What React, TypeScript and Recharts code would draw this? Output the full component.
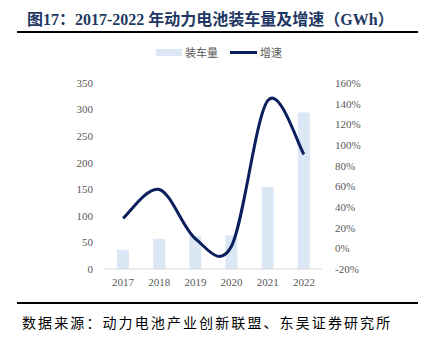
import React from 'react';
import { ComposedChart, Bar, Line, XAxis, YAxis, Legend } from 'recharts';

const years = ['2017', '2018', '2019', '2020', '2021', '2022'];
const volume = [36.4, 56.9, 62.2, 63.6, 154.5, 294.6];
const growth = [0.29, 0.57, 0.093, 0.023, 1.43, 0.91];
const leftTicks = [0, 50, 100, 150, 200, 250, 300, 350];
const rightTicks = [-0.2, 0, 0.2, 0.4, 0.6, 0.8, 1.0, 1.2, 1.4, 1.6];

const data = years.map((y, i) => ({ year: y, vol: volume[i], g: growth[i] }));

const BAR = '#DCE7F5';
const LINE = '#0A1F5C';
const TXT = '#595959';
const tickFont = { fontFamily: '"Liberation Serif", serif', fontSize: 11, fill: TXT };

// Excel-like smoothed line (uniform Catmull-Rom as cubic Bezier)
const smoothCurve = (context: any) => {
  let pts: number[][] = [];
  return {
    areaStart() {},
    areaEnd() {},
    lineStart() { pts = []; },
    point(x: number, y: number) { pts.push([+x, +y]); },
    lineEnd() {
      const n = pts.length;
      if (!n) return;
      context.moveTo(pts[0][0], pts[0][1]);
      for (let i = 0; i < n - 1; i++) {
        const p0 = pts[Math.max(i - 1, 0)];
        const p1 = pts[i];
        const p2 = pts[i + 1];
        const p3 = pts[Math.min(i + 2, n - 1)];
        context.bezierCurveTo(
          p1[0] + (p2[0] - p0[0]) / 6, p1[1] + (p2[1] - p0[1]) / 6,
          p2[0] - (p3[0] - p1[0]) / 6, p2[1] - (p3[1] - p1[1]) / 6,
          p2[0], p2[1]
        );
      }
    },
  };
};

const LegendContent = () => (
  <div style={{ display: 'flex', justifyContent: 'center', alignItems: 'center', fontFamily: '"Noto Sans CJK SC", sans-serif', fontSize: 11, color: TXT }}>
    <span style={{ display: 'inline-block', width: 26, height: 7, background: BAR, marginRight: 3 }} />
    <span style={{ marginRight: 12 }}>装车量</span>
    <span style={{ display: 'inline-block', width: 27, height: 3, background: LINE, marginRight: 3 }} />
    <span>增速</span>
  </div>
);

export default function App() {
  return (
    <div style={{ position: 'fixed', left: 0, top: 0, width: 424, height: 343, background: '#fff' }}>
      <div style={{ position: 'absolute', left: 27, top: 6, fontFamily: '"Liberation Serif", "Noto Sans CJK SC", serif', fontWeight: 'bold', fontSize: 16, color: '#1F3864', whiteSpace: 'nowrap' }}>
        图17：2017-2022 年动力电池装车量及增速（GWh）
      </div>
      <div style={{ position: 'absolute', left: 17, top: 31, width: 401, height: 2, background: '#000' }} />
      <div style={{ position: 'absolute', left: 0, top: 0 }}>
        <ComposedChart width={424} height={343} data={data} margin={{ top: 67, right: 42, bottom: 60, left: 45 }}>
          <Legend verticalAlign="top" content={<LegendContent />} wrapperStyle={{ position: 'absolute', top: 44, left: 29, width: 380 }} />
          <XAxis dataKey="year" tick={tickFont} tickLine={false} axisLine={{ stroke: '#D9D9D9' }} tickSize={0} tickMargin={9} height={14} />
          <YAxis yAxisId="l" orientation="left" domain={[0, 350]} ticks={leftTicks} tick={tickFont} axisLine={false} tickLine={false} tickSize={0} tickMargin={12} width={60} />
          <YAxis yAxisId="r" orientation="right" domain={[-0.2, 1.6]} ticks={rightTicks} tick={tickFont} axisLine={false} tickLine={false} tickSize={0} tickMargin={13} width={60} tickFormatter={(v: number) => `${Math.round(v * 100)}%`} />
          <Bar yAxisId="l" dataKey="vol" fill={BAR} barSize={12} isAnimationActive={false} />
          <Line yAxisId="r" dataKey="g" type={smoothCurve as any} stroke={LINE} strokeWidth={3} dot={false} isAnimationActive={false} />
        </ComposedChart>
      </div>
      <div style={{ position: 'absolute', left: 17, top: 302, width: 401, height: 2, background: '#000' }} />
      <div style={{ position: 'absolute', left: 22, top: 312, fontFamily: '"Noto Sans CJK SC", sans-serif', fontSize: 14, letterSpacing: 2.1, color: '#000', whiteSpace: 'nowrap' }}>
        数据来源：动力电池产业创新联盟、东吴证券研究所
      </div>
    </div>
  );
}
